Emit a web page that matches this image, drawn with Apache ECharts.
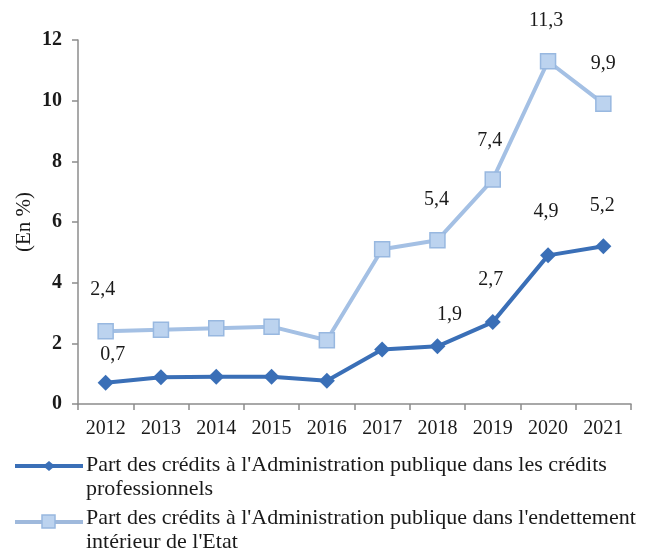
<!DOCTYPE html>
<html>
<head>
<meta charset="utf-8">
<script src="https://cdn.jsdelivr.net/npm/echarts@6/dist/echarts.min.js"></script>
<style>html,body{margin:0;padding:0;background:#fff}#c{width:646px;height:556px}</style>
</head>
<body>
<div id="c"></div>
<script>
// Years on the category axis
const years = ['2012','2013','2014','2015','2016','2017','2018','2019','2020','2021'];
// Share of credit to public administration in business credit (%)
const creditsPro = [0.7, 0.88, 0.9, 0.9, 0.77, 1.8, 1.9, 2.7, 4.9, 5.2];
// Share of credit to public administration in domestic state debt (%)
const endettement = [2.4, 2.45, 2.5, 2.55, 2.1, 5.1, 5.4, 7.4, 11.3, 9.9];
// Points that carry a value label
const labelledPro = [0, 6, 7, 8, 9];
const labelledEnd = [0, 6, 7, 8, 9];
const yTicks = [0, 2, 4, 6, 8, 10, 12];
const legendNames = [
  "Part des crédits à l'Administration publique dans les crédits\nprofessionnels",
  "Part des crédits à l'Administration publique dans l'endettement\nintérieur de l'Etat"
];

const serif = '"Liberation Serif", "DejaVu Serif", serif';
const fmt = v => v.toFixed(1).replace('.', ',');

// label nudges (px) for the labelled points, keyed by index
const proOffsets = {0: [7, -10], 6: [12, -14], 7: [-2, -24], 8: [-2, -26], 9: [-1, -23]};
const endOffsets = {0: [-3, -23], 6: [-1, -22], 7: [-3, -21], 8: [-2, -22], 9: [0, -22]};

function buildData(values, labelled, offsets) {
  return values.map((v, i) => {
    if (labelled.indexOf(i) < 0) return v;
    return {
      value: v,
      label: {
        show: true, position: 'top', distance: 0,
        offset: offsets[i] || [0, 0],
        formatter: p => fmt(p.value)
      }
    };
  });
}

const chart = echarts.init(document.getElementById('c'), null, {renderer: 'canvas'});
chart.setOption({
  animation: false,
  grid: {left: 78, right: 15, top: 40, bottom: 152},
  xAxis: {
    type: 'category', data: years, boundaryGap: true,
    axisLine: {lineStyle: {color: '#8c8c8c', width: 1.5}},
    axisTick: {show: true, interval: 0, length: 6, lineStyle: {color: '#8c8c8c', width: 1.5}},
    axisLabel: {color: '#1a1a1a', fontFamily: serif, fontSize: 20, margin: 15, interval: 0}
  },
  yAxis: {
    type: 'value', min: yTicks[0], max: yTicks[yTicks.length - 1], interval: 2,
    name: '(En %)', nameLocation: 'middle', nameGap: 43, nameRotate: 90,
    nameMoveOverlap: false,
    nameTextStyle: {color: '#1a1a1a', fontFamily: serif, fontSize: 21},
    splitLine: {show: false},
    axisLine: {show: true, lineStyle: {color: '#8c8c8c', width: 1.5}},
    axisTick: {show: true, length: 6, lineStyle: {color: '#8c8c8c', width: 1.5}},
    axisLabel: {color: '#1a1a1a', fontFamily: serif, fontSize: 20, fontWeight: 'bold', margin: 16}
  },
  series: [
    {
      name: legendNames[1], type: 'line',
      data: buildData(endettement, labelledEnd, endOffsets),
      symbol: 'rect', symbolSize: 15,
      lineStyle: {color: '#a4c0e4', width: 4},
      itemStyle: {color: '#bcd3ef', borderColor: '#98b8e0', borderWidth: 1.5},
      label: {color: '#1a1a1a', fontFamily: serif, fontSize: 20},
      z: 2
    },
    {
      name: legendNames[0], type: 'line',
      data: buildData(creditsPro, labelledPro, proOffsets),
      symbol: 'diamond', symbolSize: 16,
      lineStyle: {color: '#3a6fb7', width: 4},
      itemStyle: {color: '#3a6fb7'},
      label: {color: '#1a1a1a', fontFamily: serif, fontSize: 20},
      z: 3
    }
  ],
  graphic: [
    // legend entry 1
    {type: 'line', shape: {x1: 15, y1: 466, x2: 83, y2: 466}, style: {stroke: '#3a6fb7', lineWidth: 4}},
    {type: 'polygon', shape: {points: [[49, 461], [55, 466], [49, 471], [43, 466]]}, style: {fill: '#3a6fb7'}},
    {type: 'text', left: 86, top: 453, style: {text: legendNames[0], font: '22px ' + serif, fill: '#1a1a1a', lineHeight: 24}},
    // legend entry 2
    {type: 'line', shape: {x1: 15, y1: 522, x2: 83, y2: 522}, style: {stroke: '#9fb9dc', lineWidth: 4}},
    {type: 'rect', shape: {x: 42, y: 515, width: 13, height: 13}, style: {fill: '#bcd3ef', stroke: '#98b8e0', lineWidth: 1.5}},
    {type: 'text', left: 86, top: 506, style: {text: legendNames[1], font: '22px ' + serif, fill: '#1a1a1a', lineHeight: 24}}
  ]
});
</script>
</body>
</html>
